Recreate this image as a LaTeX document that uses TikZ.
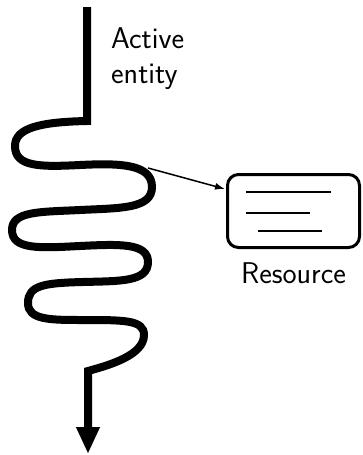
\documentclass[tikz,border=0pt]{standalone}
\usetikzlibrary{arrows.meta}
\begin{document}
\begin{tikzpicture}[x=1pt, y=-1pt,
  flow/.style={line width=8pt, line join=miter, line cap=butt,
    -{Triangle[length=27pt, width=22pt]}},
  link/.style={line width=1.5pt, -{Latex[length=10pt, width=7pt]}},
  resbox/.style={draw, line width=3pt, rounded corners=11pt,
    minimum width=132pt, minimum height=73pt, inner sep=0pt},
  doclines/.style={line width=1.5pt},
  caption/.style={font=\sffamily\fontsize{30}{35}\selectfont, inner sep=0pt}
]
\useasboundingbox (0,0) rectangle (362,455);

% label of the thread (base anchor sits on the last line)
\node[caption, align=left, anchor=base west] (lbl) at (111,83) {Active\\entity};

% the resource and its contents
\node[resbox] (res) at (293.5,211) {};
\node[caption, anchor=base] (reslbl) at (293.5,283) {Resource};
\draw[doclines] (246,192) -- (331,192);
\draw[doclines] (246,213) -- (310,213);
\draw[doclines] (258,231) -- (322,231);

% the winding thread of execution
\coordinate (top) at (87,7);
\coordinate (tap) at (148,168);
\coordinate (hit) at (225,189);
\coordinate (bottom) at (88,454);
\draw[flow] (top) -- (87,121)
  .. controls (40,122) and (15,128) .. (15,146)
  .. controls (15,167) and (40,167) .. (80,165)
  .. controls (120,163) and (152,164) .. (152,187)
  .. controls (152,209) and (120,208) .. (80,210)
  .. controls (40,212) and (12,211) .. (12,230)
  .. controls (12,250) and (40,248) .. (80,246)
  .. controls (120,244) and (148,243) .. (148,262)
  .. controls (148,282) and (120,281) .. (83,282)
  .. controls (45,283) and (28,285) .. (28,303)
  .. controls (28,320) and (50,320) .. (83,320)
  .. controls (125,320) and (144,320) .. (144,335)
  .. controls (144,355) and (110,365) .. (88,371)
  -- (bottom);

% access to the resource
\draw[link] (tap) -- (hit);
\end{tikzpicture}
\end{document}
